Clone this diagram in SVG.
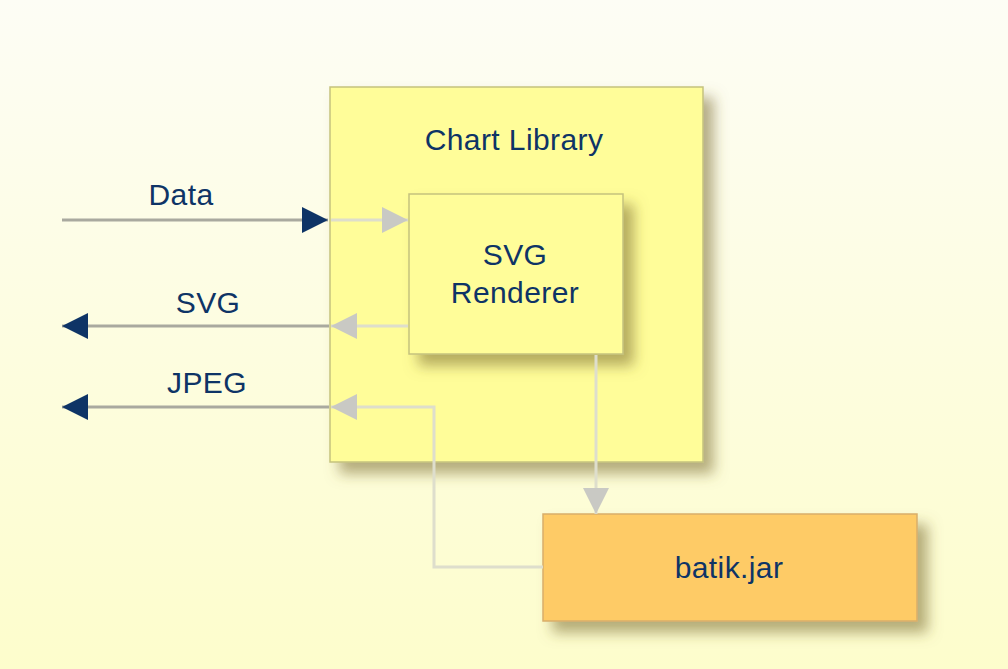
<svg xmlns="http://www.w3.org/2000/svg" width="1008" height="669" viewBox="0 0 1008 669">
<defs>
<linearGradient id="bg" x1="0" y1="0" x2="0" y2="1">
<stop offset="0" stop-color="#FDFDF5"/>
<stop offset="1" stop-color="#FDFDCC"/>
</linearGradient>
<filter id="sh" x="-20%" y="-20%" width="150%" height="150%">
<feDropShadow dx="10" dy="11" stdDeviation="7" flood-color="#7A6A30" flood-opacity="0.55"/>
</filter>
<marker id="dk" viewBox="0 0 10 10" refX="10" refY="5" markerWidth="26" markerHeight="26" markerUnits="userSpaceOnUse" orient="auto">
<path d="M0,0 L10,5 L0,10 Z" fill="#0E3466"/>
</marker>
<marker id="lt" viewBox="0 0 10 10" refX="10" refY="5" markerWidth="26" markerHeight="26" markerUnits="userSpaceOnUse" orient="auto">
<path d="M0,0 L10,5 L0,10 Z" fill="#C9C9C4"/>
</marker>
</defs>
<style>
.t{font-family:"Liberation Sans",Arial,sans-serif;font-size:30px;fill:#0E3466;text-anchor:middle;letter-spacing:0.4px}
.dl{stroke:#A9A99F;stroke-width:3;fill:none}
.ll{stroke:#DEDECC;stroke-width:3;fill:none}
.box{stroke:#C5C27E;stroke-width:1.5}
</style>
<rect x="0" y="0" width="1008" height="669" fill="url(#bg)"/>
<g id="chart-library">
<rect x="330" y="87" width="373" height="375" fill="#FFFD99" class="box" filter="url(#sh)"/>
<text class="t" x="514" y="150">Chart Library</text>
</g>
<g id="svg-renderer">
<rect x="409" y="194" width="214" height="160" fill="#FFFD99" class="box" filter="url(#sh)"/>
<text class="t" x="515" y="265">SVG</text>
<text class="t" x="515" y="303">Renderer</text>
</g>
<g id="batik">
<rect x="543" y="514" width="374" height="107" fill="#FECB66" stroke="#D9AE6A" stroke-width="1.5" filter="url(#sh)"/>
<text class="t" x="729" y="578">batik.jar</text>
</g>
<g id="connectors">
<line class="dl" x1="62" y1="220" x2="328" y2="220" marker-end="url(#dk)"/>
<line class="ll" x1="331" y1="220" x2="408" y2="220" marker-end="url(#lt)"/>
<line class="ll" x1="408" y1="326" x2="331" y2="326" marker-end="url(#lt)"/>
<line class="dl" x1="329" y1="326" x2="62" y2="326" marker-end="url(#dk)"/>
<polyline class="ll" points="543,567 434,567 434,407 331,407" marker-end="url(#lt)"/>
<line class="dl" x1="329" y1="407" x2="62" y2="407" marker-end="url(#dk)"/>
<line class="ll" x1="596" y1="355" x2="596" y2="514" marker-end="url(#lt)"/>
</g>
<g id="labels">
<text class="t" x="181" y="205">Data</text>
<text class="t" x="208" y="313">SVG</text>
<text class="t" x="207" y="393">JPEG</text>
</g>
</svg>
